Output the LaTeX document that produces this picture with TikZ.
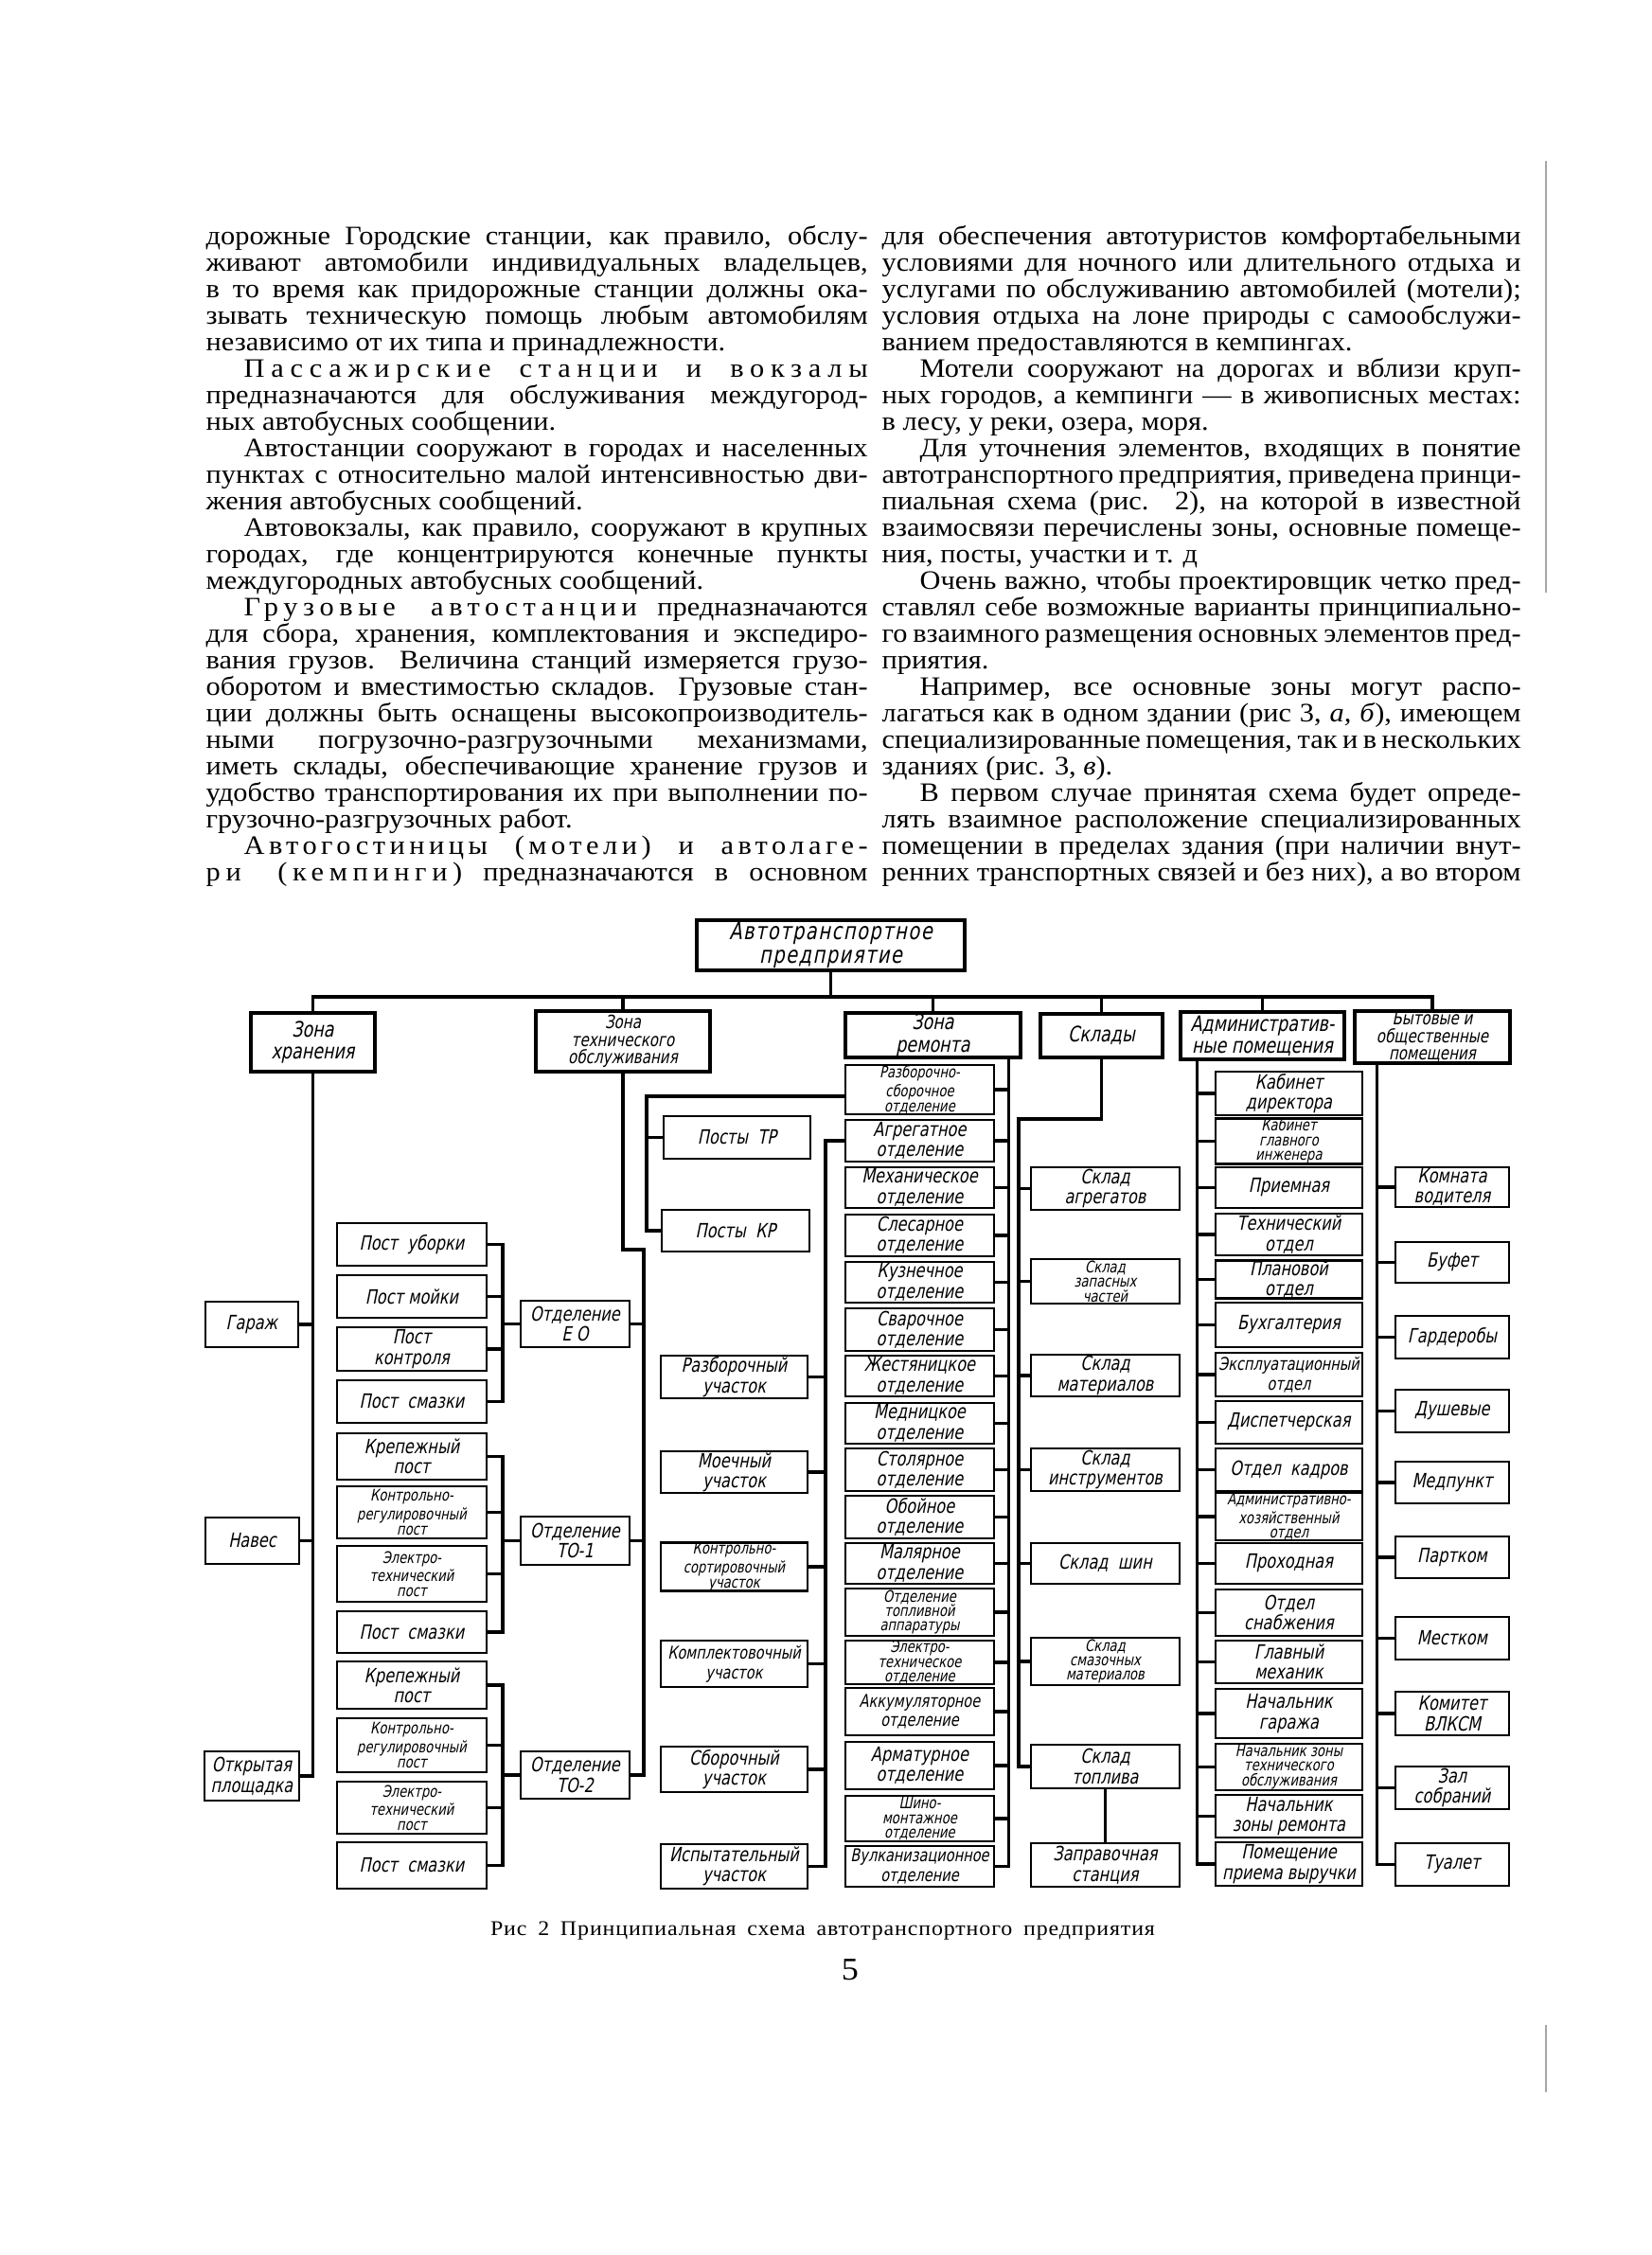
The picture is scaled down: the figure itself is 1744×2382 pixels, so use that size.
\documentclass[tikz,border=0pt]{standalone}
\usepackage{fontspec}
\setmainfont{Liberation Serif}[FakeStretch=1.08]
\newfontfamily\dfont{DejaVu Sans}[FakeSlant=0.2,FakeStretch=0.78]
\newcommand\LSp[2]{{\addfontfeature{LetterSpace=#1}#2}}
\tikzset{
 txt/.style={anchor=base west, inner sep=0pt, font=\fontsize{8}{9}\selectfont},
 bx/.style={draw, line width=0.8pt, inner sep=0pt, align=center, font=\dfont\fontsize{5.9}{6.1}\selectfont},
 t3/.style={font=\dfont\fontsize{4.8}{4.4}\selectfont},
 tn/.style={font=\dfont\fontsize{5.3}{5.9}\selectfont},
 zn/.style={line width=1.4pt, font=\dfont\fontsize{6.4}{6.6}\selectfont},
 zn3/.style={line width=1.4pt, font=\dfont\fontsize{5.5}{5.3}\selectfont},
 topb/.style={line width=1.4pt, font=\dfont\fontsize{7.1}{7.3}\selectfont\addfontfeature{LetterSpace=6}},
 ln/.style={line width=1.1pt},
}
\newcommand\Bx[7][]{%
 \pgfmathsetmacro\bxw{(#5-#3)*0.1}%
 \pgfmathsetmacro\bxh{(#6-#4)*0.1}%
 \node[bx,#1,minimum width=\bxw mm,minimum height=\bxh mm] (#2) at ({(#3+#5)/2},{(#4+#6)/2}) {#7};}
\newcommand\JL[5]{\node[txt] (#1) at (#2,#3) {\makebox[#4mm][s]{#5}};}
\newcommand\EL[4]{\node[txt] (#1) at (#2,#3) {#4};}
\begin{document}
\begin{tikzpicture}[x=0.1mm,y=-0.1mm]
\fill[white] (0,0) rectangle (1744,2382);
\useasboundingbox (0,0) rectangle (1744,2382);

% ---------- left column ----------
\JL{la1}{217}{258}{69.9}{дорожные Городские станции, как правило, обслу-}
\JL{la2}{217}{286}{69.9}{живают автомобили индивидуальных владельцев,}
\JL{la3}{217}{314}{69.9}{в то время как придорожные станции должны ока-}
\JL{la4}{217}{342}{69.9}{зывать техническую помощь любым автомобилям}
\EL{la5}{217}{370}{независимо от их типа и принадлежности.}
\JL{la6}{257}{398}{65.9}{\LSp{24}{Пассажирские станции и вокзалы}}
\JL{la7}{217}{426}{69.9}{предназначаются для обслуживания междугород-}
\EL{la8}{217}{454}{ных автобусных сообщении.}
\JL{la9}{257}{482}{65.9}{Автостанции сооружают в городах и населенных}
\JL{la10}{217}{510}{69.9}{пунктах с относительно малой интенсивностью дви-}
\EL{la11}{217}{538}{жения автобусных сообщений.}
\JL{la12}{257}{566}{65.9}{Автовокзалы, как правило, сооружают в крупных}
\JL{la13}{217}{594}{69.9}{городах, где концентрируются конечные пункты}
\EL{la14}{217}{622}{междугородных автобусных сообщений.}
\JL{la15}{257}{650}{65.9}{\LSp{20}{Грузовые автостанции} предназначаются}
\JL{la16}{217}{678}{69.9}{для сбора, хранения, комплектования и экспедиро-}
\JL{la17}{217}{706}{69.9}{вания грузов. Величина станций измеряется грузо-}
\JL{la18}{217}{734}{69.9}{оборотом и вместимостью складов. Грузовые стан-}
\JL{la19}{217}{762}{69.9}{ции должны быть оснащены высокопроизводитель-}
\JL{la20}{217}{790}{69.9}{ными погрузочно-разгрузочными механизмами,}
\JL{la21}{217}{818}{69.9}{иметь склады, обеспечивающие хранение грузов и}
\JL{la22}{217}{846}{69.9}{удобство транспортирования их при выполнении по-}
\EL{la23}{217}{874}{грузочно-разгрузочных работ.}
\JL{la24}{257}{902}{65.9}{\LSp{16}{Автогостиницы (мотели) и автолаге-}}
\JL{la25}{217}{930}{69.9}{\LSp{20}{ри (кемпинги)} предназначаются в основном}

% ---------- right column ----------
\JL{lb1}{931}{258}{67.5}{для обеспечения автотуристов комфортабельными}
\JL{lb2}{931}{286}{67.5}{условиями для ночного или длительного отдыха и}
\JL{lb3}{931}{314}{67.5}{услугами по обслуживанию автомобилей (мотели);}
\JL{lb4}{931}{342}{67.5}{условия отдыха на лоне природы с самообслужи-}
\EL{lb5}{931}{370}{ванием предоставляются в кемпингах.}
\JL{lb6}{971}{398}{63.5}{Мотели сооружают на дорогах и вблизи круп-}
\JL{lb7}{931}{426}{67.5}{ных городов, а кемпинги — в живописных местах:}
\EL{lb8}{931}{454}{в лесу, у реки, озера, моря.}
\JL{lb9}{971}{482}{63.5}{Для уточнения элементов, входящих в понятие}
\JL{lb10}{931}{510}{67.5}{автотранспортного предприятия, приведена принци-}
\JL{lb11}{931}{538}{67.5}{пиальная схема (рис. 2), на которой в известной}
\JL{lb12}{931}{566}{67.5}{взаимосвязи перечислены зоны, основные помеще-}
\EL{lb13}{931}{594}{ния, посты, участки и т. д}
\JL{lb14}{971}{622}{63.5}{Очень важно, чтобы проектировщик четко пред-}
\JL{lb15}{931}{650}{67.5}{ставлял себе возможные варианты принципиально-}
\JL{lb16}{931}{678}{67.5}{го взаимного размещения основных элементов пред-}
\EL{lb17}{931}{706}{приятия.}
\JL{lb18}{971}{734}{63.5}{Например, все основные зоны могут распо-}
\JL{lb19}{931}{762}{67.5}{лагаться как в одном здании (рис 3, \textit{а, б}), имеющем}
\JL{lb20}{931}{790}{67.5}{специализированные помещения, так и в нескольких}
\EL{lb21}{931}{818}{зданиях (рис. 3, \textit{в}).}
\JL{lb22}{971}{846}{63.5}{В первом случае принятая схема будет опреде-}
\JL{lb23}{931}{874}{67.5}{лять взаимное расположение специализированных}
\JL{lb24}{931}{902}{67.5}{помещении в пределах здания (при наличии внут-}
\JL{lb25}{931}{930}{67.5}{ренних транспортных связей и без них), а во втором}

% ---------- diagram: top and zones ----------
\Bx[topb]{T}{736}{972}{1019}{1025}{Автотранспортное\\предприятие}
\Bx[zn]{Z1}{265}{1070}{396}{1132}{Зона\\хранения}
\Bx[zn3]{Z2}{566}{1068}{750}{1132}{Зона\\технического\\обслуживания}
\Bx[zn]{Z3}{893}{1070}{1078}{1117}{Зона\\ремонта}
\Bx[zn]{Z4}{1099}{1071}{1228}{1117}{Склады}
\Bx[zn]{Z5}{1247}{1069}{1420}{1119}{Административ-\\ные помещения}
\Bx[zn3]{Z6}{1431}{1068}{1595}{1123}{Бытовые и\\общественные\\помещения}

% column A
\Bx{A1}{217}{1375}{315}{1423}{Гараж}
\Bx{A2}{217}{1603}{316}{1652}{Навес}
\Bx{A3}{216}{1850}{316}{1902}{Открытая\\площадка}

% posts
\Bx{P1}{356}{1292}{514}{1337}{Пост \ уборки}
\Bx{P2}{356}{1347}{514}{1392}{Пост мойки}
\Bx{P3}{356}{1402}{514}{1448}{Пост\\контроля}
\Bx{P4}{356}{1458}{514}{1503}{Пост \ смазки}
\Bx{P5}{356}{1514}{514}{1563}{Крепежный\\пост}
\Bx[t3]{P6}{356}{1570}{514}{1625}{Контрольно-\\регулировочный\\пост}
\Bx[t3]{P7}{356}{1633}{514}{1692}{Электро-\\технический\\пост}
\Bx{P8}{356}{1702}{514}{1746}{Пост \ смазки}
\Bx{P9}{356}{1755}{514}{1805}{Крепежный\\пост}
\Bx[t3]{P10}{356}{1815}{514}{1872}{Контрольно-\\регулировочный\\пост}
\Bx[t3]{P11}{356}{1882}{514}{1937}{Электро-\\технический\\пост}
\Bx{P12}{356}{1946}{514}{1995}{Пост \ смазки}

% departments of TO
\Bx{O1}{550}{1374}{665}{1423}{Отделение\\Е О}
\Bx{O2}{550}{1602}{665}{1653}{Отделение\\ТО-1}
\Bx{O3}{550}{1850}{665}{1900}{Отделение\\ТО-2}

% posts TR/KR and sections
\Bx{S1}{701}{1179}{856}{1224}{Посты \ ТР}
\Bx{S2}{699}{1278}{855}{1322}{Посты \ КР}
\Bx{U1}{698}{1432}{853}{1477}{Разборочный\\участок}
\Bx{U2}{698}{1533}{853}{1577}{Моечный\\участок}
\Bx[t3]{U3}{698}{1632}{853}{1678}{Контрольно-\\сортировочный\\участок}
\Bx[tn]{U4}{698}{1733}{853}{1782}{Комплектовочный\\участок}
\Bx{U5}{698}{1845}{853}{1893}{Сборочный\\участок}
\Bx{U6}{698}{1948}{853}{1995}{Испытательный\\участок}

% repair departments
\Bx[t3]{R1}{893}{1125}{1050}{1177}{Разборочно-\\сборочное\\отделение}
\Bx{R2}{893}{1183}{1050}{1227}{Агрегатное\\отделение}
\Bx{R3}{893}{1233}{1050}{1276}{Механическое\\отделение}
\Bx{R4}{893}{1283}{1050}{1327}{Слесарное\\отделение}
\Bx{R5}{893}{1333}{1050}{1376}{Кузнечное\\отделение}
\Bx{R6}{893}{1382}{1050}{1427}{Сварочное\\отделение}
\Bx{R7}{893}{1432}{1050}{1475}{Жестяницкое\\отделение}
\Bx{R8}{893}{1482}{1050}{1525}{Медницкое\\отделение}
\Bx{R9}{893}{1530}{1050}{1575}{Столярное\\отделение}
\Bx{R10}{893}{1580}{1050}{1625}{Обойное\\отделение}
\Bx{R11}{893}{1630}{1050}{1673}{Малярное\\отделение}
\Bx[t3]{R12}{893}{1678}{1050}{1728}{Отделение\\топливной\\аппаратуры}
\Bx[t3]{R13}{893}{1733}{1050}{1779}{Электро-\\техническое\\отделение}
\Bx[tn]{R14}{893}{1783}{1050}{1833}{Аккумуляторное\\отделение}
\Bx{R15}{893}{1840}{1050}{1890}{Арматурное\\отделение}
\Bx[t3]{R16}{893}{1897}{1050}{1945}{Шино-\\монтажное\\отделение}
\Bx[tn]{R17}{893}{1950}{1050}{1993}{Вулканизационное\\отделение}

% stores
\Bx{K1}{1089}{1233}{1246}{1278}{Склад\\агрегатов}
\Bx[t3]{K2}{1089}{1330}{1246}{1377}{Склад\\запасных\\частей}
\Bx{K3}{1089}{1431}{1246}{1475}{Склад\\материалов}
\Bx{K4}{1089}{1530}{1246}{1575}{Склад\\инструментов}
\Bx{K5}{1089}{1630}{1246}{1673}{Склад \ шин}
\Bx[t3]{K6}{1089}{1730}{1246}{1780}{Склад\\смазочных\\материалов}
\Bx{K7}{1089}{1843}{1246}{1889}{Склад\\топлива}
\Bx{K8}{1089}{1947}{1246}{1993}{Заправочная\\станция}

% administrative
\Bx{M1}{1284}{1132}{1439}{1178}{Кабинет\\директора}
\Bx[t3]{M2}{1284}{1183}{1439}{1228}{Кабинет\\главного\\инженера}
\Bx{M3}{1284}{1233}{1439}{1276}{Приемная}
\Bx{M4}{1284}{1282}{1439}{1326}{Технический\\отдел}
\Bx{M5}{1284}{1332}{1439}{1371}{Плановой\\отдел}
\Bx{M6}{1284}{1376}{1439}{1423}{Бухгалтерия}
\Bx[tn]{M7}{1284}{1429}{1439}{1475}{Эксплуатационный\\отдел}
\Bx{M8}{1284}{1480}{1439}{1525}{Диспетчерская}
\Bx{M9}{1284}{1530}{1439}{1575}{Отдел \ кадров}
\Bx[t3]{M10}{1284}{1579}{1439}{1625}{Административно-\\хозяйственный\\отдел}
\Bx{M11}{1284}{1630}{1439}{1673}{Проходная}
\Bx{M12}{1284}{1679}{1439}{1728}{Отдел\\снабжения}
\Bx{M13}{1284}{1733}{1439}{1778}{Главный\\механик}
\Bx{M14}{1284}{1784}{1439}{1836}{Начальник\\гаража}
\Bx[t3]{M15}{1284}{1842}{1439}{1891}{Начальник зоны\\технического\\обслуживания}
\Bx{M16}{1284}{1896}{1439}{1941}{Начальник\\зоны ремонта}
\Bx{M17}{1284}{1946}{1439}{1992}{Помещение\\приема выручки}

% welfare
\Bx{B1}{1474}{1233}{1594}{1275}{Комната\\водителя}
\Bx{B2}{1474}{1312}{1594}{1355}{Буфет}
\Bx{B3}{1474}{1390}{1594}{1435}{Гардеробы}
\Bx{B4}{1474}{1468}{1594}{1513}{Душевые}
\Bx{B5}{1474}{1544}{1594}{1588}{Медпункт}
\Bx{B6}{1474}{1623}{1594}{1667}{Партком}
\Bx{B7}{1474}{1708}{1594}{1753}{Местком}
\Bx{B8}{1474}{1787}{1594}{1833}{Комитет\\ВЛКСМ}
\Bx{B9}{1474}{1866}{1594}{1911}{Зал\\собраний}
\Bx{B10}{1474}{1947}{1594}{1992}{Туалет}

% ---------- connectors ----------
\coordinate (bus) at (877.5,1053);
\draw[ln] (T.south) -- (bus);
\draw[ln] (Z1.north) -- (Z1.north |- bus) -- (Z6.north |- bus) -- (Z6.north);
\foreach \z in {Z2,Z3,Z4,Z5} \draw[ln] (\z.north) -- (\z.north |- bus);

% storage zone
\draw[ln] (Z1.south) -- (Z1.south |- A3.east) -- (A3.east);
\foreach \a in {A1,A2} \draw[ln] (\a.east) -- (\a.east -| Z1.south);

% post brackets
\coordinate (pbx) at (531,1300);
\draw[ln] (P1.east) -- (P1.east -| pbx) -- (P4.east -| pbx) -- (P4.east);
\foreach \p in {P2,P3} \draw[ln] (\p.east) -- (\p.east -| pbx);
\draw[ln] (O1.west) -- (O1.west -| pbx);
\draw[ln] (P5.east) -- (P5.east -| pbx) -- (P8.east -| pbx) -- (P8.east);
\foreach \p in {P6,P7} \draw[ln] (\p.east) -- (\p.east -| pbx);
\draw[ln] (O2.west) -- (O2.west -| pbx);
\draw[ln] (P9.east) -- (P9.east -| pbx) -- (P12.east -| pbx) -- (P12.east);
\foreach \p in {P10,P11} \draw[ln] (\p.east) -- (\p.east -| pbx);
\draw[ln] (O3.west) -- (O3.west -| pbx);

% maintenance zone line
\coordinate (j1) at (680,1320);
\draw[ln] (Z2.south) -- (Z2.south |- j1) -- (j1) -- (j1 |- O3.east) -- (O3.east);
\foreach \o in {O1,O2} \draw[ln] (\o.east) -- (\o.east -| j1);

% posts TR / KR bracket
\coordinate (b1) at (683,1158);
\draw[ln] (b1 -| R1.west) -- (b1) -- (b1 |- S2.west) -- (S2.west);
\draw[ln] (S1.west) -- (S1.west -| b1);

% sections line
\coordinate (ux) at (872,1205);
\draw[ln] (R2.west) -- (R2.west -| ux) -- (ux |- U6.east) -- (U6.east);
\foreach \u in {U1,U2,U3,U4,U5} \draw[ln] (\u.east) -- (\u.east -| ux);

% repair zone line
\coordinate (rx) at ([xshift=-1.5mm]Z3.south east);
\draw[ln] (rx) -- (rx |- R17.east) -- (R17.east);
\foreach \r in {R1,R2,R3,R4,R5,R6,R7,R8,R9,R10,R11,R12,R13,R14,R15,R16} \draw[ln] (\r.east) -- (\r.east -| rx);

% stores line
\coordinate (kx) at (1076,1182);
\draw[ln] (Z4.south) -- (Z4.south |- kx) -- (kx) -- (kx |- K7.west) -- (K7.west);
\foreach \k in {K1,K2,K3,K4,K5,K6} \draw[ln] (\k.west) -- (\k.west -| kx);
\draw[ln] (K7.south) -- (K8.north);

% administrative line
\coordinate (mx) at ([xshift=2mm]Z5.south west);
\draw[ln] (mx) -- (mx |- M17.west) -- (M17.west);
\foreach \m in {M1,M2,M3,M4,M5,M6,M7,M8,M9,M10,M11,M12,M13,M14,M15,M16} \draw[ln] (\m.west) -- (\m.west -| mx);

% welfare line
\coordinate (wx) at ([xshift=2.6mm]Z6.south west);
\draw[ln] (wx) -- (wx |- B10.west) -- (B10.west);
\foreach \b in {B1,B2,B3,B4,B5,B6,B7,B8,B9} \draw[ln] (\b.west) -- (\b.west -| wx);

% caption and page number
\node[inner sep=0pt, font=\fontsize{6.3}{7}\selectfont\addfontfeature{LetterSpace=4}] (cap) at (869,2040) {\makebox[70.2mm][s]{Рис 2 Принципиальная схема автотранспортного предприятия}};
\node[inner sep=0pt, font=\fontsize{9.5}{10}\selectfont] (pg) at (898,2081) {5};

% page edge marks
\draw[gray!70, line width=0.5pt] (1633,170) -- (1633,626);
\draw[gray!70, line width=0.5pt] (1633,2139) -- (1633,2210);
\end{tikzpicture}
\end{document}
